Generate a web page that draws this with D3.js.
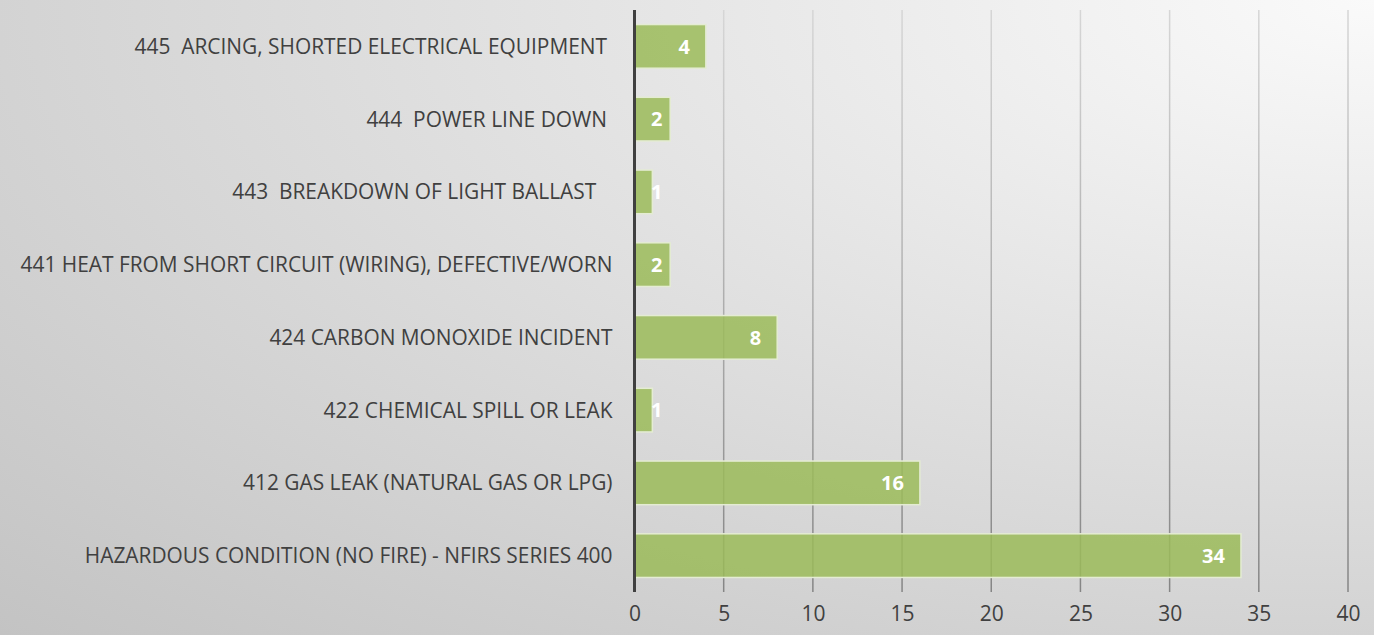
<!DOCTYPE html>
<html>
<head>
<meta charset="utf-8">
<script src="https://cdn.jsdelivr.net/npm/d3@7"></script>
<style>
  body { margin: 0; overflow: hidden; }
  text { font-family: "Open Sans", sans-serif; }
</style>
</head>
<body>
<div id="chart"></div>
<script>
// chart data
var categories = [
    "445  ARCING, SHORTED ELECTRICAL EQUIPMENT ",
    "444  POWER LINE DOWN ",
    "443  BREAKDOWN OF LIGHT BALLAST   ",
    "441 HEAT FROM SHORT CIRCUIT (WIRING), DEFECTIVE/WORN",
    "424 CARBON MONOXIDE INCIDENT",
    "422 CHEMICAL SPILL OR LEAK",
    "412 GAS LEAK (NATURAL GAS OR LPG)",
    "HAZARDOUS CONDITION (NO FIRE) - NFIRS SERIES 400"
];
var counts = [4, 2, 1, 2, 8, 1, 16, 34];
var xTicks = [0, 5, 10, 15, 20, 25, 30, 35, 40];

var svgWidth = 1374;
var svgHeight = 635;

var chartMargin = {
    top: 10,
    right: 26,
    left: 634.5,
    bottom: 43};

var chartWidth = svgWidth - chartMargin.left - chartMargin.right;
var chartHeight = svgHeight - chartMargin.top - chartMargin.bottom;

var svg = d3.select("#chart")
    .append("svg")
    .attr("height", svgHeight)
    .attr("width", svgWidth);

// background gradient, light in the top right corner
var defs = svg.append("defs");
var bg = defs.append("radialGradient")
    .attr("id", "bg")
    .attr("cx", 1).attr("cy", 0).attr("r", 1.414)
    .attr("fx", 1).attr("fy", 0);
bg.append("stop").attr("offset", "0%").attr("stop-color", "#fafafa");
bg.append("stop").attr("offset", "100%").attr("stop-color", "#c3c3c3");

var gridGrad = defs.append("linearGradient")
    .attr("id", "gridGrad")
    .attr("gradientUnits", "userSpaceOnUse")
    .attr("x1", 0).attr("y1", 0).attr("x2", 0).attr("y2", chartHeight);
gridGrad.append("stop").attr("offset", "0%").attr("stop-color", "#d6d6d6");
gridGrad.append("stop").attr("offset", "100%").attr("stop-color", "#858585");

svg.append("rect")
    .attr("width", svgWidth)
    .attr("height", svgHeight)
    .attr("fill", "url(#bg)");

var chartGroup = svg.append("g")
    .attr("transform", `translate(${chartMargin.left}, ${chartMargin.top})`);

// scales
var xLinearScale = d3.scaleLinear()
    .domain([0, 40])
    .range([0, chartWidth]);

var yBandScale = d3.scaleBand()
    .domain(categories)
    .range([0, chartHeight])
    .paddingInner(0.4)
    .paddingOuter(0.2);

// gridlines
chartGroup.append("g")
    .selectAll("line")
    .data(xTicks.filter(d => d > 0))
    .enter()
    .append("line")
    .attr("x1", d => xLinearScale(d))
    .attr("x2", d => xLinearScale(d))
    .attr("y1", 0)
    .attr("y2", chartHeight)
    .attr("stroke", "url(#gridGrad)")
    .attr("stroke-width", 1.5);

// bottom axis (labels only)
var bottomAxis = d3.axisBottom(xLinearScale).tickValues(xTicks).tickSize(0).tickPadding(14);
var xAxisG = chartGroup.append("g")
    .attr("transform", `translate(0, ${chartHeight})`)
    .call(bottomAxis);
xAxisG.select(".domain").remove();
xAxisG.selectAll("text")
    .attr("fill", "#404040")
    .style("font-size", "21px")
    .style("font-family", "'Open Sans', sans-serif");

// bars
chartGroup.selectAll(".bar")
    .data(counts)
    .enter()
    .append("rect")
    .attr("class", "bar")
    .attr("x", xLinearScale(0))
    .attr("y", (d, i) => yBandScale(categories[i]))
    .attr("width", d => xLinearScale(d) - xLinearScale(0))
    .attr("height", yBandScale.bandwidth())
    .attr("fill", "#9bbb59")
    .attr("fill-opacity", 0.85)
    .attr("stroke", "#e4ecd3")
    .attr("stroke-width", 1.5);

// value labels
chartGroup.selectAll(".val")
    .data(counts)
    .enter()
    .append("text")
    .attr("class", "val")
    .attr("x", d => Math.max(xLinearScale(d) - 16, 28))
    .attr("y", (d, i) => yBandScale(categories[i]) + yBandScale.bandwidth() / 2)
    .attr("dy", "0.36em")
    .attr("text-anchor", "end")
    .attr("fill", "#ffffff")
    .style("font-weight", "bold")
    .style("font-size", "20px")
    .text(d => d);

// category labels
chartGroup.selectAll(".cat")
    .data(categories)
    .enter()
    .append("text")
    .attr("class", "cat")
    .attr("x", -22)
    .attr("y", d => yBandScale(d) + yBandScale.bandwidth() / 2)
    .attr("dy", "0.36em")
    .attr("text-anchor", "end")
    .attr("fill", "#404040")
    .style("font-size", "20.9px")
    .style("white-space", "pre")
    .text(d => d);

// vertical axis line
chartGroup.append("line")
    .attr("x1", 0).attr("x2", 0)
    .attr("y1", 0).attr("y2", chartHeight)
    .attr("stroke", "#404040")
    .attr("stroke-width", 3);
</script>
</body>
</html>
